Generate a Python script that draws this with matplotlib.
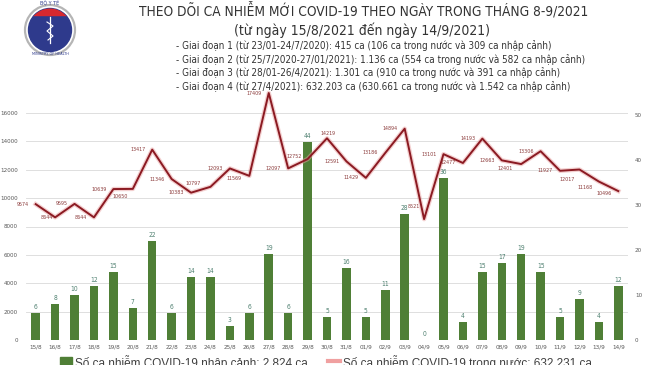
import numpy as np
import matplotlib
matplotlib.use('Agg')
import matplotlib.pyplot as plt
import matplotlib.patheffects as pe
from matplotlib.patches import Circle, Rectangle

W, H = 650, 365

dates = ['15/8', '16/8', '17/8', '18/8', '19/8', '20/8', '21/8', '22/8', '23/8', '24/8',
         '25/8', '26/8', '27/8', '28/8', '29/8', '30/8', '31/8', '01/9', '02/9', '03/9',
         '04/9', '05/9', '06/9', '07/9', '08/9', '09/9', '10/9', '11/9', '12/9', '13/9', '14/9']
imported = [6, 8, 10, 12, 15, 7, 22, 6, 14, 14, 3, 6, 19, 6, 44, 5, 16, 5, 11, 28,
            0, 36, 4, 15, 17, 19, 15, 5, 9, 4, 12]
domestic = [9574, 8644, 9595, 8644, 10639, 10650, 13417, 11346, 10383, 10797, 12093,
            11569, 17409, 12097, 12752, 14219, 12591, 11429, 13186, 14894, 8521, 13101,
            12477, 14193, 12663, 12401, 13306, 11927, 12017, 11168, 10496]

title = 'THEO DÕI CA NHIỄM MỚI COVID-19 THEO NGÀY TRONG THÁNG 8-9/2021'
subtitle = '(từ ngày 15/8/2021 đến ngày 14/9/2021)'
phases = [
    '- Giai đoạn 1 (từ 23/01-24/7/2020): 415 ca (106 ca trong nước và 309 ca nhập cảnh)',
    '- Giai đoạn 2 (từ 25/7/2020-27/01/2021): 1.136 ca (554 ca trong nước và 582 ca nhập cảnh)',
    '- Giai đoạn 3 (từ 28/01-26/4/2021): 1.301 ca (910 ca trong nước và 391 ca nhập cảnh)',
    '- Giai đoạn 4 (từ 27/4/2021): 632.203 ca (630.661 ca trong nước và 1.542 ca nhập cảnh)',
]
legend_imported = 'Số ca nhiễm COVID-19 nhập cảnh: 2.824 ca'
legend_domestic = 'Số ca nhiễm COVID-19 trong nước: 632.231 ca'

NARROW = dict(family=['Liberation Sans Narrow', 'DejaVu Sans'], fontstretch='condensed')
BAR_C = '#4f7f36'
LINE_C = '#8b1a22'
GRAY = '#595959'


def fx(x):
    return x / W


def fy(y):
    return 1 - y / H


fig = plt.figure(figsize=(6.5, 3.65), dpi=100)
fig.patch.set_facecolor('white')
renderer = fig.canvas.get_renderer()


def fit_size(s, width_px, **kw):
    # font size that makes s about width_px wide
    t = fig.text(0, 0, s, fontsize=10, **kw)
    w = t.get_window_extent(renderer).width
    t.remove()
    return 10 * width_px / w


fs_title = fit_size(title, 449, **NARROW)
fs_sub = fit_size(subtitle, 257, **NARROW)
fs_phase = fit_size(phases[1], 409, **NARROW)
fs_ytick = fit_size('16000', 18, **NARROW)
fs_xtick = fit_size('15/8', 13, **NARROW)
fs_bar = fit_size('44', 7.5, **NARROW)
fs_line = fit_size('17409', 15.5, **NARROW)
fs_leg = fit_size(legend_imported, 232, family=['Liberation Sans', 'DejaVu Sans'])

# chart area
ax = fig.add_axes([fx(26), fy(340), fx(628) - fx(26), fy(90.3) - fy(340)])
axr = ax.twinx()
ax.set_zorder(axr.get_zorder() + 1)
ax.patch.set_visible(False)

x = np.arange(len(dates))
lmax = 17600
ratio = 317.2
ax.set_ylim(0, lmax)
axr.set_ylim(0, lmax / ratio)
ax.set_xlim(-0.5, len(dates) - 0.5)

for g in range(0, 16001, 2000):
    axr.axhline(g / ratio, color='#d9d9d9', lw=0.6, zorder=0)

bars = axr.bar(x, imported, width=0.44, color=BAR_C, zorder=2)
for xi, v in zip(x, imported):
    axr.annotate(str(v), (xi, v), xytext=(0, 3), textcoords='offset pixels',
                 ha='center', va='bottom', fontsize=fs_bar, color='#4f8070', **NARROW)

ax.plot(x, domestic, color=LINE_C, lw=1.4, zorder=3,
        path_effects=[pe.Stroke(linewidth=3.2, foreground='#e8a0a0', alpha=0.5), pe.Normal()])

# label offsets (pixels) for the line values
offsets = {i: (-7, 0, 'right') for i in range(len(domestic))}
offsets.update({1: (-2, 0, 'right'), 5: (-13, -8, 'center'), 9: (-10, 3, 'right'),
                11: (-8, -3, 'right'), 14: (-6, 3, 'right'), 15: (1, 5, 'center'),
                20: (-4, 13, 'right'), 25: (-8, -4, 'right'), 28: (-5, -10, 'right'),
                29: (-6, -6, 'right'), 30: (-7, -2, 'right')})
for i, v in enumerate(domestic):
    dx, dy, ha = offsets[i]
    ax.annotate(str(v), (i, v), xytext=(dx, dy), textcoords='offset pixels',
                ha=ha, va='center', fontsize=fs_line, color='#8b3a3a', **NARROW)

ax.set_yticks(range(0, 16001, 2000))
axr.set_yticks(range(0, 51, 10))
ax.set_xticks(x)
ax.set_xticklabels(dates)
for a in (ax, axr):
    for s in a.spines.values():
        s.set_visible(False)
    a.tick_params(length=0, labelsize=fs_ytick, labelcolor=GRAY)
    for lab in a.get_xticklabels() + a.get_yticklabels():
        lab.set_family(NARROW['family'])
        lab.set_stretch('condensed')
ax.tick_params(axis='x', pad=3, labelsize=fs_xtick)
ax.tick_params(axis='y', pad=6)
axr.tick_params(axis='y', pad=5)

# header texts
fig.text(fx(364), fy(11), title, ha='center', va='center', fontsize=fs_title,
         color='#333333', **NARROW)
fig.text(fx(362), fy(30), subtitle, ha='center', va='center', fontsize=fs_sub,
         color='#333333', **NARROW)
for k, line in enumerate(phases):
    fig.text(fx(176), fy(46 + 13.5 * k), line, ha='left', va='center', fontsize=fs_phase,
             color='#333333', **NARROW)

# logo
lax = fig.add_axes([fx(20), fy(60), fx(60), 60 / H])
lax.set_xlim(0, 60)
lax.set_ylim(60, 0)
lax.set_aspect('equal')
lax.axis('off')
lax.add_patch(Circle((30, 30), 25, fill=False, ec='#b5b5b5', lw=1.6))
blue = Circle((30, 30), 21.5, color='#2e3a8c')
lax.add_patch(blue)
red = Rectangle((5, 5), 50, 10, color='#d7282f')
lax.add_patch(red)
red.set_clip_path(blue)
lax.plot([30, 30], [17, 43], color='white', lw=0.9)
lax.plot([27, 33, 27, 33, 28], [22, 26, 31, 36, 40], color='white', lw=0.8)
lax.text(30, 3.5, 'BỘ Y TẾ', ha='center', va='center', fontsize=3.5, color='#2e3a8c')
lax.text(30, 54, 'MINISTRY OF HEALTH', ha='center', va='center', fontsize=2.5, color='#2e3a8c')

# legend at the bottom (cut by the figure edge)
fig.patches.append(Rectangle((fx(60), fy(366)), fx(12), 9 / H, transform=fig.transFigure,
                             color=BAR_C))
fig.text(fx(75), fy(367), legend_imported, ha='left', va='baseline', fontsize=fs_leg,
         color='#404040', family=['Liberation Sans', 'DejaVu Sans'])
fig.lines.append(plt.Line2D([fx(328), fx(340)], [fy(361), fy(361)], transform=fig.transFigure,
                            color='#f0a0a0', lw=3))
fig.text(fx(343), fy(367), legend_domestic, ha='left', va='baseline', fontsize=fs_leg,
         color='#404040', family=['Liberation Sans', 'DejaVu Sans'])

fig.savefig('out.png', dpi=100)
